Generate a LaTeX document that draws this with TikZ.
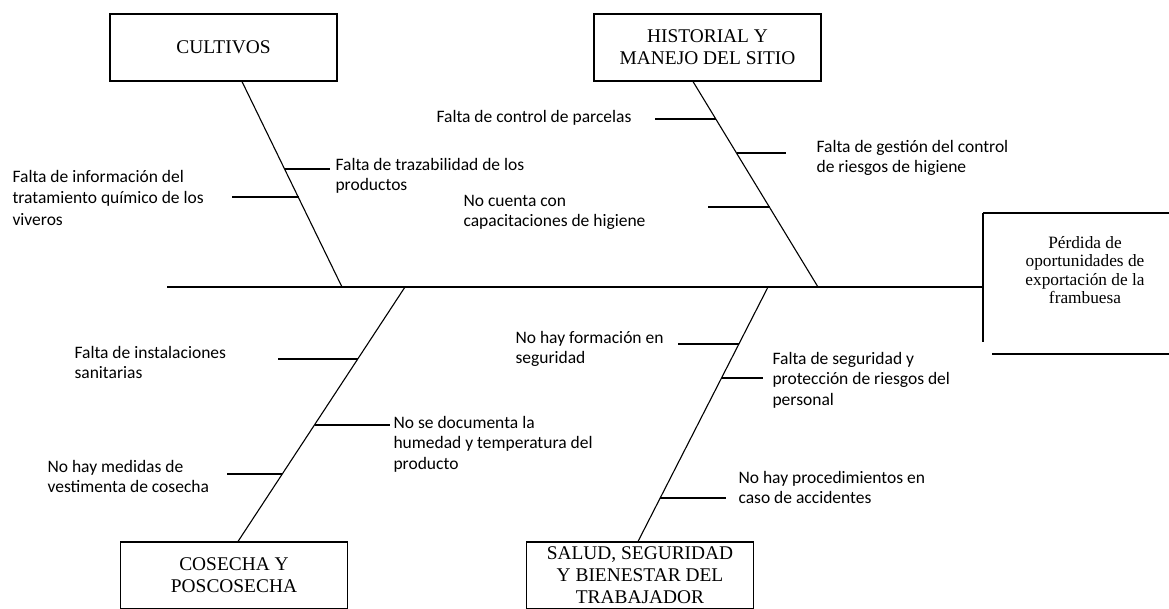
\documentclass[tikz,border=0pt]{standalone}
\usepackage{fontspec}
\setmainfont{Liberation Serif}
\newfontfamily\calibfont{Carlito}
\usetikzlibrary{calc}

\begin{document}
\begin{tikzpicture}[x = 1pt, y = -1pt, line width = 1.1pt]
\tikzstyle{BoxStyle}=[draw,
                      minimum width = 227pt,
                      minimum height = 67pt,
                      inner sep = 0pt,
                      align = center,
                      font = \fontsize{19.4}{22}\selectfont]
\tikzstyle{CauseStyle}=[anchor = north west,
                        inner sep = 0pt,
                        align = left,
                        font = \calibfont\fontsize{17.5}{20.5}\selectfont]
\useasboundingbox (0,0) rectangle (1169,608);
\clip (0,0) rectangle (1169,608);
\node[BoxStyle] (c0) at (223.5, 47.5) {CULTIVOS};
\node[BoxStyle] (c1) at (707.5, 47.5) {HISTORIAL Y\\MANEJO DEL SITIO};
\node[BoxStyle] (c2) at (234, 575.5) {COSECHA Y\\POSCOSECHA};
\node[BoxStyle] (c3) at (640, 575.5) {SALUD, SEGURIDAD\\Y BIENESTAR DEL\\TRABAJADOR};
\node[align = center, inner sep = 0pt, font = \fontsize{17.3}{18.5}\selectfont] (e0) at (1085, 270) {P\'erdida de\\oportunidades de\\exportaci\'on de la\\frambuesa};
\coordinate (s0) at (167, 287);
\coordinate (s1) at (983, 287);
\coordinate (e1) at (983, 213);
\coordinate (e2) at (983, 342);
\coordinate (e3) at (1169, 213);
\coordinate (e4) at (992, 354);
\coordinate (e5) at (1169, 354);
\coordinate (k0) at ([xshift = 18.5pt]c0.south);
\coordinate (k1) at ([xshift = -14.5pt]c1.south);
\coordinate (k2) at ([xshift = 4pt]c2.north);
\coordinate (k3) at ([xshift = -2pt]c3.north);
\coordinate (h0) at (342, 287);
\coordinate (h1) at (818, 287);
\coordinate (h2) at (405, 287);
\coordinate (h3) at (768, 287);
\coordinate (p0) at (285, 169) ; \coordinate (q0) at (330, 169);
\coordinate (p1) at (299, 197) ; \coordinate (q1) at (232, 197);
\coordinate (p2) at (716, 119) ; \coordinate (q2) at (655, 119);
\coordinate (p3) at (737, 153) ; \coordinate (q3) at (786, 153);
\coordinate (p4) at (770, 207) ; \coordinate (q4) at (708, 207);
\coordinate (p5) at (358, 359) ; \coordinate (q5) at (278, 359);
\coordinate (p6) at (315, 425) ; \coordinate (q6) at (390, 425);
\coordinate (p7) at (282, 474) ; \coordinate (q7) at (227, 474);
\coordinate (p8) at (739, 344) ; \coordinate (q8) at (678, 344);
\coordinate (p9) at (722, 378) ; \coordinate (q9) at (763, 378);
\coordinate (p10) at (660, 498) ; \coordinate (q10) at (726, 498);
\node[CauseStyle, font = \calibfont\fontsize{17.5}{21.5}\selectfont] (t0) at (12, 169.5) {Falta de informaci\'on del\\tratamiento qu\'imico de los\\viveros};
\node[CauseStyle] (t1) at (335, 157.5) {Falta de trazabilidad de los\\productos};
\node[CauseStyle] (t2) at (436, 109.5) {Falta de control de parcelas};
\node[CauseStyle] (t3) at (816, 139.5) {Falta de gesti\'on del control\\de riesgos de higiene};
\node[CauseStyle] (t4) at (463, 194.5) {No cuenta con\\capacitaciones de higiene};
\node[CauseStyle] (t5) at (74, 345.5) {Falta de instalaciones\\sanitarias};
\node[CauseStyle] (t6) at (393, 415.5) {No se documenta la\\humedad y temperatura del\\producto};
\node[CauseStyle] (t7) at (47, 459.5) {No hay medidas de\\vestimenta de cosecha};
\node[CauseStyle] (t8) at (515, 330.5) {No hay formaci\'on en\\seguridad};
\node[CauseStyle] (t9) at (772, 351.5) {Falta de seguridad y\\protecci\'on de riesgos del\\personal};
\node[CauseStyle] (t10) at (738, 470.5) {No hay procedimientos en\\caso de accidentes};
\draw (s0) -- (s1);
\draw (e1) -- (e2);
\draw (e1) -- (e3);
\draw (e4) -- (e5);
\draw (k0) -- (h0);
\draw (k1) -- (h1);
\draw (k2) -- (h2);
\draw (k3) -- (h3);
\draw (p0) -- (q0);
\draw (p1) -- (q1);
\draw (p2) -- (q2);
\draw (p3) -- (q3);
\draw (p4) -- (q4);
\draw (p5) -- (q5);
\draw (p6) -- (q6);
\draw (p7) -- (q7);
\draw (p8) -- (q8);
\draw (p9) -- (q9);
\draw (p10) -- (q10);
\end{tikzpicture}
\end{document}
